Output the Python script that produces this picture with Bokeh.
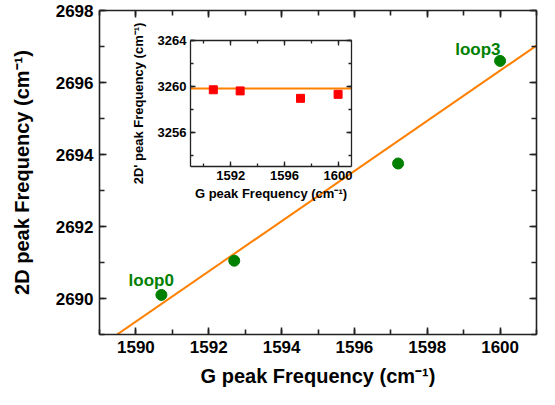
from bokeh.plotting import figure
from bokeh.models import LinearAxis, SingleIntervalTicker, Range1d
from bokeh.core.properties import value
from bokeh.embed import file_html
from bokeh.resources import INLINE

# ---- data ----
g_peak = [1590.7, 1592.7, 1597.2, 1600.0]
d2_peak = [2690.1, 2691.05, 2693.75, 2696.6]
d2p_peak = [3259.7, 3259.6, 3258.95, 3259.3]
fit_slope = 0.697
fit_intercept = 1581.13
fit_x = [1589.0, 1601.0]
inset_level = 3259.8
point_labels = ["loop0", "loop3"]
label_x = [1590.42, 1599.39]
label_y = [2690.5, 2696.92]

main_xrange = (1589, 1601)
main_yrange = (2689, 2698)
inset_xrange = (1589, 1601)
inset_yrange = (3253, 3264)

FONT = "Liberation Sans"
GREEN = "#008000"
ORANGE = "#FF8000"
AXC = "#222222"


def tick_style(ax, maj_in, min_in, lw):
    ax.major_tick_in = maj_in
    ax.major_tick_out = 0
    ax.minor_tick_in = min_in
    ax.minor_tick_out = 0
    ax.axis_line_color = AXC
    ax.axis_line_width = lw
    ax.major_tick_line_color = AXC
    ax.minor_tick_line_color = AXC
    ax.major_tick_line_width = lw
    ax.minor_tick_line_width = lw


def style(fig, xt, yt, tick_size, label_size, maj_in, min_in, lw, tick_standoff, x_lab_standoff, y_lab_standoff):
    for ax in list(fig.xaxis) + list(fig.yaxis):
        ax.major_label_text_font = FONT
        ax.major_label_text_font_style = "bold"
        ax.major_label_text_font_size = tick_size
        ax.major_label_text_color = "black"
        ax.axis_label_text_font = FONT
        ax.axis_label_text_font_style = "bold"
        ax.axis_label_text_font_size = label_size
        ax.axis_label_text_color = "black"
        ax.major_label_standoff = tick_standoff
        tick_style(ax, maj_in, min_in, lw)
    fig.xaxis[0].ticker = xt
    fig.yaxis[0].ticker = yt
    fig.xaxis[0].axis_label_standoff = x_lab_standoff
    fig.yaxis[0].axis_label_standoff = y_lab_standoff
    top = LinearAxis(ticker=xt, major_label_text_font_size="1px",
                     major_label_text_color=None, major_label_standoff=0)
    right = LinearAxis(ticker=yt, major_label_text_font_size="1px",
                       major_label_text_color=None, major_label_standoff=0)
    for ax in (top, right):
        tick_style(ax, maj_in, min_in, lw)
    fig.add_layout(top, "above")
    fig.add_layout(right, "right")
    fig.xgrid.visible = False
    fig.ygrid.visible = False
    fig.outline_line_color = None


# ---- main figure ----
p = figure(width=539, height=389, output_backend="svg", toolbar_location=None,
           x_range=Range1d(*main_xrange), y_range=Range1d(*main_yrange),
           min_border_left=99, min_border_right=3, min_border_top=10, min_border_bottom=4,
           x_axis_label="G peak Frequency (cm\u207b\u00b9)",
           y_axis_label="2D peak Frequency (cm\u207b\u00b9)")
p.background_fill_color = "white"
p.border_fill_color = "white"
style(p, SingleIntervalTicker(interval=2, num_minor_ticks=2),
      SingleIntervalTicker(interval=2, num_minor_ticks=2),
      "17px", "20px", 7, 5, 1.6, 6, 9, 20)

fit_y = [fit_intercept + fit_slope * x for x in fit_x]
p.line(fit_x, fit_y, line_color=ORANGE, line_width=2)
p.scatter(g_peak, d2_peak, marker="circle", size=11, fill_color=GREEN, line_color=GREEN)
p.text(x=label_x, y=label_y, text=point_labels, text_color=GREEN,
       text_font=value(FONT), text_font_style="bold", text_font_size="17px",
       text_align="center", text_baseline="alphabetic")

# ---- inset figure ----
inset = figure(frame_width=161, frame_height=126, output_backend="svg", toolbar_location=None,
               x_range=Range1d(*inset_xrange), y_range=Range1d(*inset_yrange),
               min_border_left=64, min_border_right=4, min_border_top=30, min_border_bottom=4,
               x_axis_label="G peak Frequency (cm\u207b\u00b9)",
               y_axis_label="2D' peak Frequency (cm\u207b\u00b9)",
               styles={"position": "absolute", "left": "126px", "top": "10px"})
inset.background_fill_color = "white"
inset.border_fill_alpha = 0
style(inset, SingleIntervalTicker(interval=4, num_minor_ticks=2),
      SingleIntervalTicker(interval=4, num_minor_ticks=2),
      "13px", "13px", 5, 3, 1.3, 4, 3, 9)

inset.line(inset_xrange, [inset_level, inset_level], line_color=ORANGE, line_width=2)
inset.scatter(g_peak, d2p_peak, marker="square", size=8, fill_color="#FF0000", line_color="#FF0000")

open("out.html", "w").write(file_html([p, inset], INLINE))
